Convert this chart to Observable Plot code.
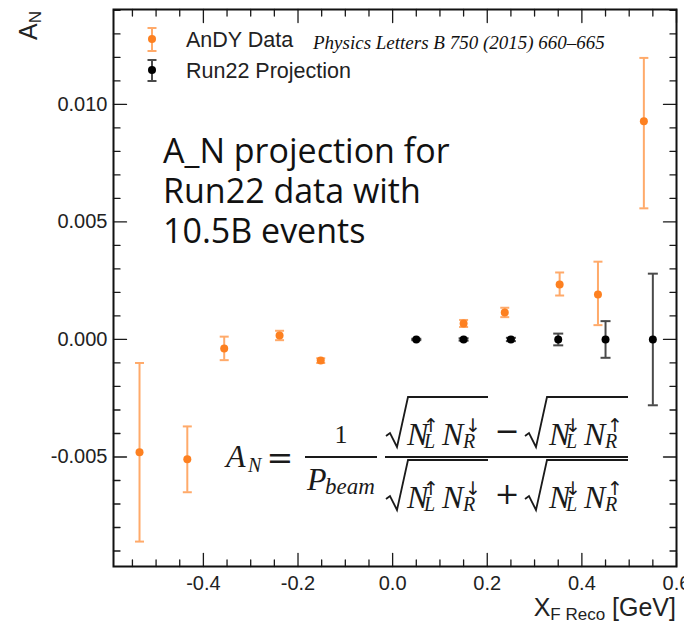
<!DOCTYPE html>
<html><head><meta charset="utf-8">
<script src="https://cdn.jsdelivr.net/npm/d3@7"></script>
<script src="https://cdn.jsdelivr.net/npm/@observablehq/plot@0.6"></script>
<style>html,body{margin:0;padding:0;background:#fff}</style>
</head><body><div id="chart"></div>
<script>
// ---- data ----
const andyX = [-0.535, -0.434, -0.356, -0.239, -0.152, 0.150, 0.237, 0.353, 0.434, 0.531];
const andyY = [-0.0048, -0.0051, -0.00038, 0.00017, -0.0009, 0.00068, 0.00115, 0.00234, 0.00191, 0.00928];
const andyErrLow  = [0.0038, 0.0014, 0.0005, 0.0002, 0.0001, 0.00015, 0.0002, 0.00047, 0.0013, 0.0037];
const andyErrHigh = [0.0038, 0.0014, 0.0005, 0.0002, 0.0001, 0.00015, 0.0002, 0.00051, 0.0014, 0.0027];
const runX = [0.05, 0.15, 0.25, 0.35, 0.45, 0.55];
const runY = [0, 0, 0, 0, 0, 0];
const runErr = [0.00003, 0.00005, 0.00007, 0.00025, 0.00078, 0.0028];
const xMajorTicks = [-0.4, -0.2, 0.0, 0.2, 0.4, 0.6];
const xMinorTicks = [-0.55, -0.5, -0.45, -0.35, -0.3, -0.25, -0.15, -0.1, -0.05, 0.05, 0.1, 0.15, 0.25, 0.3, 0.35, 0.45, 0.5, 0.55];
const yMajorTicks = [-0.005, 0.0, 0.005, 0.010];
const yMinorTicks = [-0.009, -0.008, -0.007, -0.006, -0.004, -0.003, -0.002, -0.001, 0.001, 0.002, 0.003, 0.004, 0.006, 0.007, 0.008, 0.009, 0.011, 0.012, 0.013, 0.014];
const seriesNames = ["AnDY Data", "Run22 Projection"];
const citation = "Physics Letters B 750 (2015) 660–665";
const noteLines = ["A_N projection for", "Run22 data with", "10.5B events"];

const ORANGE = "#fd8020", ORANGE_BAR = "#ffaa6a", BLACK = "#000", BLACK_BAR = "#4a4a4a";

const andy = andyX.map((x, i) => ({x, y: andyY[i], lo: andyY[i] - andyErrLow[i], hi: andyY[i] + andyErrHigh[i]}));
const run = runX.map((x, i) => ({x, y: runY[i], lo: runY[i] - runErr[i], hi: runY[i] + runErr[i]}));

const capSymbol = {draw(ctx, size) { const r = Math.sqrt(size / Math.PI); ctx.moveTo(-r, 0); ctx.lineTo(r, 0); }};
const tickShape = {draw(ctx, l) { ctx.moveTo(0, 0); ctx.lineTo(0, -l); }};

function ticks(data, side, len) {
  const rot = {bottom: 0, top: 180, left: 90, right: -90}[side];
  const ch = (side === "bottom" || side === "top") ? {x: d => d} : {y: d => d};
  return Plot.vector(data, {...ch, frameAnchor: side, length: len, rotate: rot, anchor: "start", shape: tickShape, stroke: "#1a1a1a", strokeWidth: 1.3});
}

function errorMarks(data, barColor, dotColor, capR) {
  return [
    Plot.ruleX(data, {x: "x", y1: "lo", y2: "hi", stroke: barColor, strokeWidth: 2}),
    Plot.dot(data, {x: "x", y: "lo", symbol: capSymbol, r: capR, stroke: barColor, strokeWidth: 2, fill: "none"}),
    Plot.dot(data, {x: "x", y: "hi", symbol: capSymbol, r: capR, stroke: barColor, strokeWidth: 2, fill: "none"}),
    Plot.dot(data, {x: "x", y: "y", r: 4, fill: dotColor, stroke: "none"})
  ];
}

function overlay(index, scales, values, dim) {
  const g = d3.create("svg:g").attr("text-anchor", "start");
  const ml = dim.marginLeft, mt = dim.marginTop, mb = dim.height - dim.marginBottom, mr = dim.width - dim.marginRight;
  // legend
  const leg = [{c: ORANGE, b: ORANGE_BAR, y: 39, t1: 28, t2: 51, ty: 47}, {c: BLACK, b: BLACK_BAR, y: 70, t1: 60, t2: 81, ty: 78}];
  leg.forEach((L, i) => {
    const lx = ml + 39;
    g.append("line").attr("x1", lx).attr("x2", lx).attr("y1", L.t1).attr("y2", L.t2).attr("stroke", L.b).attr("stroke-width", 2);
    [L.t1, L.t2].forEach(yy => g.append("line").attr("x1", lx - 4.5).attr("x2", lx + 4.5).attr("y1", yy).attr("y2", yy).attr("stroke", L.b).attr("stroke-width", 2));
    g.append("circle").attr("cx", lx).attr("cy", L.y).attr("r", 4).attr("fill", L.c);
    g.append("text").attr("x", ml + 73).attr("y", L.ty).attr("font-size", 21.5).attr("fill", "#222").text(seriesNames[i]);
  });
  g.append("text").attr("x", ml + 200).attr("y", 49).attr("font-family", "Liberation Serif").attr("font-style", "italic").attr("font-size", 19).attr("fill", "#111").text(citation);
  // axis titles
  const yt = g.append("text").attr("transform", `translate(37,${mt + 2}) rotate(-90)`).attr("text-anchor", "end").attr("font-size", 25).attr("fill", "#222");
  yt.append("tspan").text("A");
  yt.append("tspan").attr("font-size", 17).attr("dy", 4).text("N");
  const xt = g.append("text").attr("x", mr).attr("y", mb + 50).attr("text-anchor", "end").attr("font-size", 25).attr("fill", "#222");
  xt.append("tspan").text("X");
  xt.append("tspan").attr("font-size", 17).attr("dy", 4).text("F Reco");
  xt.append("tspan").attr("dy", -4).text(" [GeV]");
  // annotation
  const nt = g.append("text").attr("font-family", "Open Sans").attr("font-size", 34).attr("fill", "#111");
  noteLines.forEach((s, i) => nt.append("tspan").attr("x", ml + 50).attr("y", 163 + 40 * i).text(s));
  // formula
  const f = g.append("g").attr("fill", "#1a1a1a").attr("font-family", "Liberation Serif");
  const T = (x, y, s, size, opts = {}) => {
    const t = f.append("text").attr("x", x).attr("y", y).attr("font-size", size).text(s);
    if (opts.italic !== false) t.attr("font-style", "italic");
    if (opts.anchor) t.attr("text-anchor", opts.anchor);
    if (opts.family) t.attr("font-family", opts.family);
    return t;
  };
  const line = (x1, y1, x2, y2) => f.append("line").attr("x1", x1).attr("y1", y1).attr("x2", x2).attr("y2", y2).attr("stroke", "#1a1a1a").attr("stroke-width", 1.8);
  T(226, 467, "A", 32); T(248, 472, "N", 20);
  T(280, 469, "=", 32, {italic: false, anchor: "middle", family: "DejaVu Serif"});
  T(341, 443, "1", 26, {italic: false, anchor: "middle"});
  line(305, 457, 377, 457);
  T(307, 490, "P", 32); T(325, 494, "beam", 23);
  line(385, 457, 628, 457);
  const rad = (x0, x1, B) => f.append("path").attr("d", `M${x0 - 1},${B - 9}L${x0 + 3},${B - 12}L${x0 + 10},${B + 2}L${x0 + 21},${B - 48}H${x1}`).attr("fill", "none").attr("stroke", "#1a1a1a").attr("stroke-width", 1.8);
  const NN = (x, B, s1, s2) => {
    T(x, B, "N", 32); T(x + 16, B - 13, s1, 19, {italic: false, family: "DejaVu Sans"}); T(x + 17, B + 3, "L", 20);
    T(x + 35, B, "N", 32); T(x + 58, B - 13, s2, 19, {italic: false, family: "DejaVu Sans"}); T(x + 56, B + 3, "R", 20);
  };
  [[445, "−"], [508, "+"]].forEach(([B, op]) => {
    rad(387, 488, B); NN(407, B, "↑", "↓");
    T(507, B - 4, op, 30, {italic: false, anchor: "middle", family: "DejaVu Serif"});
    rad(526, 628, B); NN(549, B, "↓", "↑");
  });
  return g.node();
}

const plot = Plot.plot({
  width: 684, height: 629,
  marginLeft: 113, marginRight: 8, marginTop: 9, marginBottom: 63,
  style: {fontFamily: "Liberation Sans", background: "#fff", overflow: "visible"},
  x: {domain: [-0.59, 0.6]},
  y: {domain: [-0.00966, 0.01404]},
  marks: [
    ticks(xMajorTicks, "bottom", 13), ticks(xMinorTicks, "bottom", 6.5),
    ticks(xMajorTicks, "top", 13), ticks(xMinorTicks, "top", 6.5),
    ticks(yMajorTicks, "left", 13), ticks(yMinorTicks, "left", 6.5),
    ticks(yMajorTicks, "right", 13), ticks(yMinorTicks, "right", 6.5),
    Plot.axisX(xMajorTicks, {anchor: "bottom", tickSize: 0, tickPadding: 9, tickFormat: d => d.toFixed(1), fontSize: 20, fill: "#222", label: null}),
    Plot.axisY(yMajorTicks, {anchor: "left", tickSize: 0, tickPadding: 6, tickFormat: d => d.toFixed(3), fontSize: 20, fill: "#222", label: null}),
    ...errorMarks(andy, ORANGE_BAR, ORANGE, 4.5),
    ...errorMarks(run, BLACK_BAR, BLACK, 5),
    Plot.frame({stroke: "#111", strokeWidth: 2}),
    overlay
  ]
});
document.getElementById("chart").append(plot);
</script>
</body></html>
